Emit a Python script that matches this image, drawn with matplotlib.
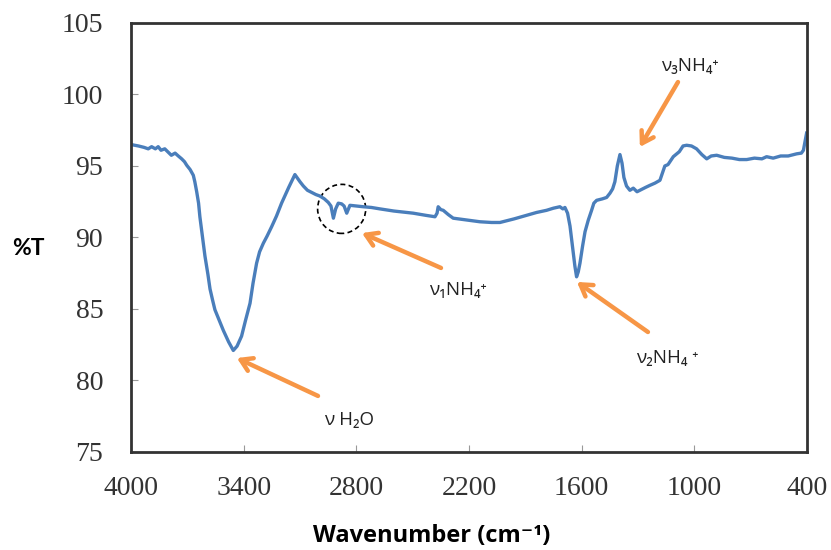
import matplotlib
matplotlib.use("Agg")
import matplotlib.pyplot as plt
from matplotlib.patches import Ellipse

# ---- data ----
wavenumber = [4000, 3960, 3930, 3908, 3890, 3870, 3855, 3840, 3820, 3801, 3785, 3765, 3748, 3730,
              3715, 3703, 3685, 3668, 3660, 3650, 3640, 3633, 3620, 3606, 3590, 3579, 3565, 3553,
              3530, 3508, 3480, 3455, 3435, 3411, 3390, 3366, 3350, 3331, 3315, 3295, 3275, 3251,
              3225, 3198, 3160, 3127, 3100, 3082, 3060, 3038, 3015, 2994, 2970, 2949, 2935, 2922,
              2910, 2896, 2878, 2865, 2851, 2834, 2800, 2763, 2720, 2674, 2600, 2497, 2430, 2381,
              2370, 2364, 2350, 2337, 2310, 2284, 2200, 2142, 2080, 2035, 1960, 1893, 1840, 1787,
              1750, 1716, 1700, 1689, 1675, 1662, 1648, 1636, 1627, 1618, 1609, 1595, 1582, 1565,
              1547, 1535, 1520, 1490, 1467, 1449, 1435, 1423, 1410, 1396, 1385, 1375, 1361, 1343,
              1325, 1305, 1290, 1260, 1236, 1210, 1183, 1170, 1157, 1140, 1112, 1080, 1060, 1041,
              1015, 988, 960, 934, 910, 881, 840, 800, 760, 721, 680, 640, 615, 580, 540, 500,
              455, 430, 419, 402]
transmittance = [96.5, 96.4, 96.3, 96.2, 96.35, 96.2, 96.35, 96.1, 96.2, 95.95, 95.75, 95.9, 95.7, 95.5,
                 95.3, 95.05, 94.75, 94.35, 93.9, 93.2, 92.4, 91.45, 90.1, 88.7, 87.4, 86.4, 85.6, 84.95,
                 84.2, 83.5, 82.7, 82.1, 82.4, 83.1, 84.2, 85.4, 86.8, 88.2, 89.0, 89.6, 90.1, 90.75,
                 91.5, 92.4, 93.5, 94.4, 93.9, 93.6, 93.3, 93.15, 93.0, 92.9, 92.7, 92.45, 92.2, 91.35,
                 92.0, 92.4, 92.35, 92.2, 91.7, 92.25, 92.2, 92.15, 92.1, 92.0, 91.85, 91.7, 91.55, 91.45,
                 91.7, 92.15, 91.95, 91.9, 91.6, 91.35, 91.2, 91.1, 91.05, 91.05, 91.3, 91.55, 91.75, 91.9,
                 92.05, 92.15, 92.0, 92.1, 91.7, 90.8, 89.3, 88.0, 87.25, 87.6, 88.2, 89.4, 90.4, 91.2,
                 91.9, 92.4, 92.6, 92.7, 92.8, 93.1, 93.4, 93.9, 95.0, 95.8, 95.2, 94.2, 93.6, 93.3,
                 93.45, 93.2, 93.3, 93.5, 93.65, 93.8, 94.0, 94.5, 95.0, 95.1, 95.65, 96.0, 96.4, 96.45,
                 96.4, 96.2, 95.8, 95.5, 95.7, 95.75, 95.6, 95.55, 95.45, 95.45, 95.55, 95.5, 95.65, 95.55,
                 95.7, 95.7, 95.85, 95.9, 96.1, 97.3]
x_ticks = [4000, 3400, 2800, 2200, 1600, 1000, 400]
y_ticks = [75, 80, 85, 90, 95, 100, 105]

labels = ["ν H₂O", "ν₁NH₄⁺", "ν₂NH₄ ⁺", "ν₃NH₄⁺"]

# ---- figure ----
fig = plt.figure(figsize=(8.31, 5.5), dpi=100)
ax = fig.add_axes([0.1576, 0.1782, 0.8135, 0.7800])

ax.plot(wavenumber, transmittance, color="#4A7EBB", lw=2.4, solid_joinstyle="round")
ax.set_xlim(4000, 400)
ax.set_ylim(75, 105)
ax.set_xticks(x_ticks)
ax.set_yticks(y_ticks)
ax.set_xticklabels([str(t) for t in x_ticks])
ax.set_yticklabels([str(t) for t in y_ticks])

for lbl in ax.get_xticklabels() + ax.get_yticklabels():
    lbl.set_fontfamily("Liberation Serif")
    lbl.set_fontsize(20)
    lbl.set_color("#333333")
ax.tick_params(axis="both", direction="in", length=5, width=0.8, color="#999999")
ax.tick_params(axis="x", pad=17)
ax.tick_params(axis="y", pad=20)

for s in ax.spines.values():
    s.set_linewidth(2.0)
    s.set_color("#333333")

fig.text(0.034, 0.549, "%T", fontsize=16.5, fontweight="bold", family=["Lato", "DejaVu Sans"],
         ha="center", va="center")
fig.text(0.52, 0.026, "Wavenumber (cm⁻¹)", fontsize=17, fontweight="bold",
         family=["Open Sans", "DejaVu Sans"], ha="center", va="center")

# dashed circle
ax.add_patch(Ellipse((2878, 92.0), 256, 3.43, fill=False, ls=(0, (3, 2)), lw=1.2, color="black"))

orange = "#F79646"
arrows = [((3436, 81.57), (3004, 78.92)),
          ((2770, 90.31), (2349, 87.87)),
          ((1625, 86.89), (1247, 83.39)),
          ((1290, 96.33), (1087, 100.87))]
for head, tail in arrows:
    ax.annotate("", xy=head, xytext=tail,
                arrowprops=dict(arrowstyle="->,head_length=0.8,head_width=0.5", color=orange,
                                lw=3.2, shrinkA=0, shrinkB=0))

text_pos = [(2839, 77.24), (2259, 86.33), (1146, 81.57), (1023, 101.99)]
for (x, y), t in zip(text_pos, labels):
    ax.text(x, y, t, fontsize=13.5, family=["Open Sans", "DejaVu Sans"], ha="center", va="center",
            color="#222222")

fig.savefig("out.png", dpi=100)
